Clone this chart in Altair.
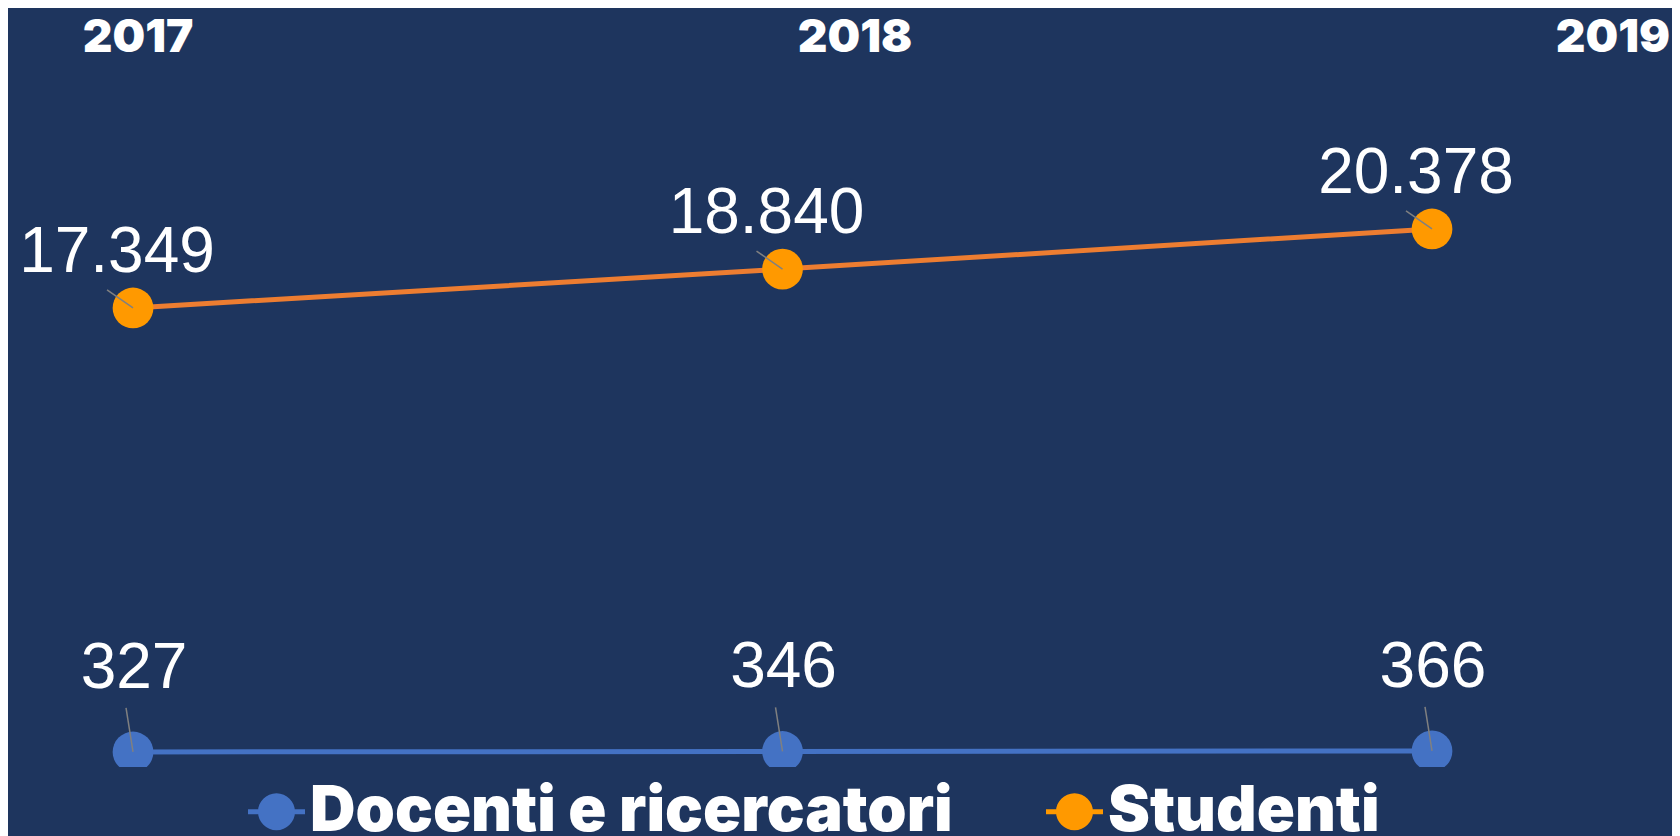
import altair as alt
import pandas as pd

# ---- data ----
years = [2017, 2018, 2019]
header_labels = ["2017", "2018", "2019"]
series_names = ["Docenti e ricercatori", "Studenti"]
docenti = [327, 346, 366]
studenti = [17349, 18840, 20378]

rows = []
for yr, v in zip(years, docenti):
    rows.append({"year": yr, "value": v, "series": series_names[0]})
for yr, v in zip(years, studenti):
    rows.append({"year": yr, "value": v, "series": series_names[1]})
df = pd.DataFrame(rows)
df["label"] = df["value"].map(lambda v: f"{v:,}".replace(",", "."))
doc_df = df[df["series"] == series_names[0]]
stu_df = df[df["series"] == series_names[1]]
hdr_df = pd.DataFrame({"year": years, "label": header_labels})

BG = "#1E355E"
BLUE = "#4472C4"
ORANGE_LINE = "#ED7D31"
ORANGE_POINT = "#FF9900"
LEADER = "#808080"

x_scale = alt.Scale(domain=[2016.8075, 2019.3695], nice=False, zero=False)
y_scale = alt.Scale(domain=[-250, 28850], nice=False, zero=False)
X = alt.X("year:Q", scale=x_scale, axis=None)
Y = alt.Y("value:Q", scale=y_scale, axis=None)

line_doc = alt.Chart(doc_df).mark_line(strokeWidth=5, color=BLUE).encode(X, Y)
line_stu = alt.Chart(stu_df).mark_line(strokeWidth=5, color=ORANGE_LINE).encode(X, Y)

legend_symbol = (
    "M -1 -0.085 L 1 -0.085 L 1 0.085 L -1 0.085 Z "
    "M 0 -0.65 A 0.65 0.65 0 1 1 0 0.65 A 0.65 0.65 0 1 1 0 -0.65 Z"
)

points = alt.Chart(df).mark_circle(size=1660, opacity=1, clip=True).encode(
    X, Y,
    color=alt.Color(
        "series:N",
        scale=alt.Scale(domain=series_names, range=[BLUE, ORANGE_POINT]),
        legend=alt.Legend(
            title=None,
            orient="none",
            legendX=237,
            legendY=772,
            direction="horizontal",
            symbolType=legend_symbol,
            symbolSize=3249,
            symbolStrokeWidth=0,
            symbolOpacity=1,
            labelFont="Inter",
            labelFontSize=63,
            labelFontWeight=900,
            labelColor="white",
            labelOffset=2,
            labelLimit=2000,
            columnPadding=90,
        ),
    ),
)

lead_doc = alt.Chart(doc_df).mark_rule(color=LEADER, strokeWidth=1.5, x2Offset=-7, y2Offset=-44).encode(
    X, Y, x2=alt.X2("year:Q"), y2=alt.Y2("value:Q")
)
lead_stu = alt.Chart(stu_df).mark_rule(color=LEADER, strokeWidth=1.5, x2Offset=-26, y2Offset=-18).encode(
    X, Y, x2=alt.X2("year:Q"), y2=alt.Y2("value:Q")
)

text_doc = alt.Chart(doc_df).mark_text(
    font="Liberation Sans", fontSize=64, color="white", dx=1, dy=-64, baseline="alphabetic", align="center"
).encode(X, Y, text="label:N")
text_stu = alt.Chart(stu_df).mark_text(
    font="Liberation Sans", fontSize=64, color="white", dx=-16, dy=-36, baseline="alphabetic", align="center"
).encode(X, Y, text="label:N")

header = alt.Chart(hdr_df).mark_text(
    font="Inter", fontSize=46, fontWeight=900, color="white", baseline="alphabetic", align="center"
).encode(
    x=alt.X("year:Q", scale=alt.Scale(domain=years, range=[130, 847, 1605]), axis=None),
    y=alt.value(44),
    text="label:N",
)

chart = (
    alt.layer(line_doc, line_stu, points, lead_doc, lead_stu, text_doc, text_stu, header)
    .resolve_scale(x="independent")
    .properties(
        width=1664,
        height=759,
        autosize=alt.AutoSizeParams(type="none"),
        padding={"left": 0, "top": 0, "right": 0, "bottom": 69},
        background=BG,
    )
    .configure_view(stroke=None)
)

chart.save("out.html", embed_options={"renderer": "svg", "actions": False})
